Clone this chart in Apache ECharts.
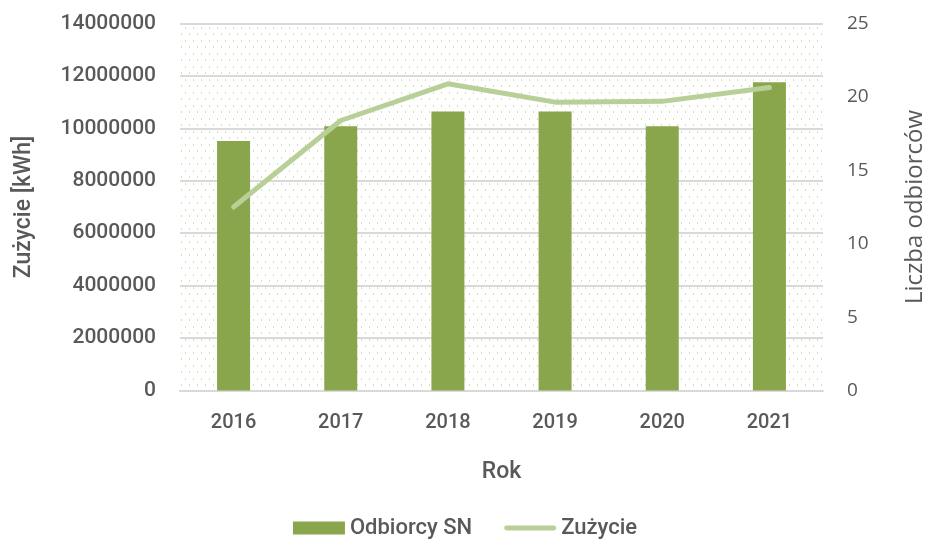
<!DOCTYPE html>
<html>
<head>
<meta charset="utf-8">
<script src="https://cdn.jsdelivr.net/npm/echarts@6/dist/echarts.min.js"></script>
<style>
  html, body { margin: 0; padding: 0; background: #fff; }
  #main { width: 930px; height: 545px; }
</style>
</head>
<body>
<div id="main"></div>
<script>
// dane
var years = ['2016', '2017', '2018', '2019', '2020', '2021']
var odbiorcy = [17, 18, 19, 19, 18, 21]
var zuzycie = [7000000, 10300000, 11700000, 11000000, 11030000, 11560000]
var leftTicks = [0, 14000000, 2000000]
var rightTicks = [0, 25, 5]

// kropkowane tlo
function dotPattern () {
  var c = document.createElement('canvas')
  c.width = 8
  c.height = 13
  var ctx = c.getContext('2d')
  ctx.fillStyle = '#d3e1b2'
  ctx.fillRect(1, 1, 1, 2)
  ctx.fillRect(5, 7, 1, 2)
  return c
}

var txt = '#595959'
var mainFont = 'Roboto'

var chart = echarts.init(document.getElementById('main'))
chart.setOption({
  animation: false,
  grid: {
    left: 180,
    right: 107,
    top: 23.5,
    bottom: 154.5,
    outerBoundsMode: 'none',
    containLabel: false,
    show: true,
    borderWidth: 0,
    backgroundColor: { image: dotPattern(), repeat: 'repeat' }
  },
  legend: {
    bottom: 1,
    left: 'center',
    itemGap: 32,
    itemWidth: 52,
    itemHeight: 13,
    textStyle: { color: txt, fontSize: 22, fontFamily: mainFont, fontWeight: 500 },
    data: [
      { name: 'Odbiorcy SN', icon: 'rect' },
      { name: 'Zużycie', icon: 'path://M2,0 L98,0 A2,2 0 0 1 98,10 L2,10 A2,2 0 0 1 2,0 Z' }
    ]
  },
  xAxis: {
    type: 'category',
    data: years,
    name: 'Rok',
    nameLocation: 'middle',
    nameGap: 70,
    nameTextStyle: { color: txt, fontSize: 23, fontFamily: mainFont, fontWeight: 500 },
    axisTick: { show: false },
    axisLine: { lineStyle: { color: '#d9d9d9', width: 2 } },
    axisLabel: { color: txt, fontSize: 20, fontFamily: mainFont, fontWeight: 500, margin: 22 }
  },
  yAxis: [
    {
      type: 'value',
      min: leftTicks[0],
      max: leftTicks[1],
      interval: leftTicks[2],
      name: 'Zużycie [kWh]',
      nameLocation: 'middle',
      nameGap: 144,
      nameTextStyle: { color: txt, fontSize: 23, fontFamily: mainFont, fontWeight: 500 },
      axisLine: { show: false },
      axisTick: { show: false },
      splitLine: { lineStyle: { color: '#d9d9d9', width: 2 } },
      axisLabel: {
        color: txt, fontSize: 21, fontFamily: mainFont, fontWeight: 500, margin: 24,
        formatter: function (v) { return String(v) }
      }
    },
    {
      type: 'value',
      min: rightTicks[0],
      max: rightTicks[1],
      interval: rightTicks[2],
      name: 'Liczba odbiorców',
      nameLocation: 'middle',
      nameGap: 80,
      nameRotate: 90,
      nameTextStyle: { color: txt, fontSize: 24, fontFamily: 'Open Sans' },
      axisLine: { show: false },
      axisTick: { show: false },
      splitLine: { show: false },
      axisLabel: { color: txt, fontSize: 19, fontFamily: 'Open Sans', margin: 24 }
    }
  ],
  series: [
    {
      name: 'Odbiorcy SN',
      type: 'bar',
      yAxisIndex: 1,
      barWidth: 33,
      itemStyle: { color: '#8aa64c' },
      data: odbiorcy
    },
    {
      name: 'Zużycie',
      type: 'line',
      yAxisIndex: 0,
      symbol: 'none',
      lineStyle: { color: '#b8d097', width: 5, cap: 'round', join: 'round' },
      itemStyle: { color: '#b8d097' },
      data: zuzycie
    }
  ]
})
</script>
</body>
</html>
